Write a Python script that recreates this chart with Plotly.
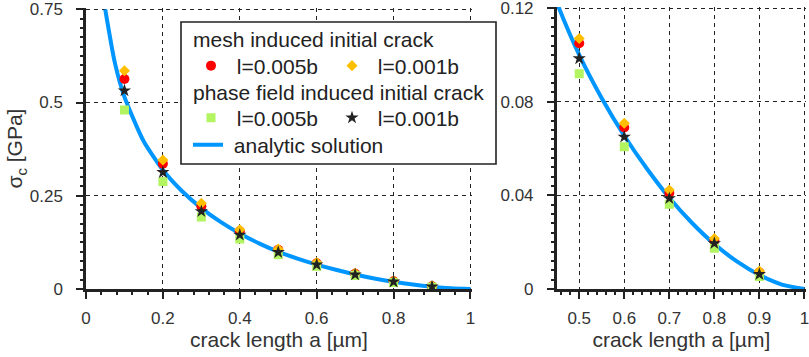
import plotly.graph_objects as go

# ---------------- data ----------------
a_curve = [0.05, 0.075, 0.1, 0.15, 0.2, 0.25, 0.3, 0.35, 0.4, 0.45, 0.5,
           0.55, 0.6, 0.65, 0.7, 0.75, 0.8, 0.85, 0.9, 0.95, 1.0]
sigma_curve = [0.75, 0.607, 0.515, 0.396, 0.319, 0.262, 0.217, 0.180, 0.149, 0.1225, 0.100,
               0.0815, 0.0655, 0.0515, 0.039, 0.0283, 0.0192, 0.0118, 0.006, 0.0019, 0.0]

a_pts = [0.1, 0.2, 0.3, 0.4, 0.5, 0.6, 0.7, 0.8, 0.9]
mesh_l005 = [0.563, 0.336, 0.222, 0.155, 0.105, 0.069, 0.041, 0.0206, 0.0071]
mesh_l001 = [0.585, 0.346, 0.230, 0.159, 0.107, 0.0708, 0.0423, 0.0216, 0.0077]
pf_l005 = [0.480, 0.288, 0.193, 0.134, 0.092, 0.0608, 0.0362, 0.0174, 0.0053]
pf_l001 = [0.532, 0.313, 0.208, 0.145, 0.0985, 0.065, 0.0387, 0.0195, 0.0063]

x_ticks_left = [0, 0.2, 0.4, 0.6, 0.8, 1.0]
x_ticktext_left = ["0", "0.2", "0.4", "0.6", "0.8", "1"]
y_ticks_left = [0, 0.25, 0.5, 0.75]
y_ticktext_left = ["0", "0.25", "0.5", "0.75"]
x_ticks_right = [0.5, 0.6, 0.7, 0.8, 0.9, 1.0]
x_ticktext_right = ["0.5", "0.6", "0.7", "0.8", "0.9", "1"]
y_ticks_right = [0, 0.04, 0.08, 0.12]
y_ticktext_right = ["0", "0.04", "0.08", "0.12"]

label_mesh = "mesh induced initial crack"
label_pf = "phase field induced initial crack"
label_l005 = "l=0.005b"
label_l001 = "l=0.001b"
label_analytic = "analytic solution"
x_title = "crack length a [µm]"
y_title = "σ<sub>c</sub> [GPa]"

# ---------------- style ----------------
W, H = 809, 357
FONT = "Liberation Sans, Arial, sans-serif"
INK = "#222222"
TXT = "#333333"
BLUE = "#0096FF"
RED = "#FF0000"
YEL = "#FFBF00"
GRN = "#B2F561"


def px_x(p):
    return p / W


def px_y(p):
    return 1 - p / H


fig = go.Figure()

series = [
    (mesh_l005, RED, "circle", 10, label_l005, "legend"),
    (mesh_l001, YEL, "diamond", 8.5, label_l001, "legend"),
    (pf_l005, GRN, "square", 9, label_l005, "legend2"),
    (pf_l001, INK, "star", 10, label_l001, "legend2"),
]

# analytic curve
for xa, ya, show in (("x", "y", True), ("x2", "y2", False)):
    fig.add_trace(go.Scatter(x=a_curve, y=sigma_curve, mode="lines", xaxis=xa, yaxis=ya,
                             line=dict(color=BLUE, width=4, shape="spline", smoothing=0.6),
                             name=" " + label_analytic, showlegend=show, legend="legend3"))

for vals, col, sym, size, name, lg in series:
    for xa, ya, show in (("x", "y", True), ("x2", "y2", False)):
        fig.add_trace(go.Scatter(x=a_pts, y=vals, mode="markers", xaxis=xa, yaxis=ya,
                                 marker=dict(color=col, symbol=sym, size=size, line=dict(width=0)),
                                 name=" " + name, showlegend=show, legend=lg))

common_axis = dict(
    automargin=False,
    showgrid=True, gridcolor=INK, gridwidth=1.3, griddash="4px,4px",
    showline=True, linecolor=INK, linewidth=2.5,
    ticks="outside", ticklen=7, tickwidth=2, tickcolor=INK,
    zeroline=False, tickfont=dict(size=17, color=TXT, family=FONT),
    ticklabeloverflow="allow",
)

fig.update_layout(
    template="none",
    width=W, height=H,
    margin=dict(l=0, r=0, t=0, b=0, autoexpand=False),
    paper_bgcolor="white", plot_bgcolor="white",
    font=dict(family=FONT, color=INK),
    xaxis=dict(common_axis, domain=[px_x(86), px_x(472)], range=[0, 1.004], anchor="y",
               tickmode="array", tickvals=x_ticks_left, ticktext=x_ticktext_left,
               minor=dict(dtick=0.04, tick0=0, ticks="outside", ticklen=3, tickwidth=1.5,
                          tickcolor=INK, showgrid=False),
               ticklabelstandoff=5,
               title=dict(text=x_title, font=dict(size=21, color=TXT), standoff=4)),
    yaxis=dict(common_axis, domain=[px_y(289), px_y(8)], range=[0, 0.7535], anchor="x",
               tickmode="array", tickvals=y_ticks_left, ticktext=y_ticktext_left,
               minor=dict(dtick=0.025, tick0=0, ticks="outside", ticklen=3, tickwidth=1.5,
                          tickcolor=INK, showgrid=False),
               ticklabelstandoff=10,
               title=dict(text=y_title, font=dict(size=21, color=TXT), standoff=0)),
    xaxis2=dict(common_axis, domain=[px_x(556.7), px_x(806)], range=[0.45, 1.0035], anchor="y2",
                tickmode="array", tickvals=x_ticks_right, ticktext=x_ticktext_right,
                minor=dict(dtick=0.02, tick0=0, ticks="outside", ticklen=3, tickwidth=1.5,
                           tickcolor=INK, showgrid=False),
                ticklabelstandoff=5,
                title=dict(text=x_title, font=dict(size=21, color=TXT), standoff=4)),
    yaxis2=dict(common_axis, domain=[px_y(289), px_y(7)], range=[0, 0.1205], anchor="x2",
                tickmode="array", tickvals=y_ticks_right, ticktext=y_ticktext_right,
                minor=dict(dtick=0.004, tick0=0, ticks="outside", ticklen=3, tickwidth=1.5,
                           tickcolor=INK, showgrid=False),
                ticklabelstandoff=10),
    showlegend=True,
)

leg_common = dict(orientation="h", xref="paper", yref="paper", xanchor="left", yanchor="middle",
                  bgcolor="rgba(0,0,0,0)", borderwidth=0, font=dict(size=21, color=INK, family=FONT),
                  itemsizing="trace", tracegroupgap=0)
fig.update_layout(
    legend=dict(leg_common, x=px_x(191), y=px_y(66), entrywidth=96, entrywidthmode="pixels"),
    legend2=dict(leg_common, x=px_x(191), y=px_y(118), entrywidth=96, entrywidthmode="pixels"),
    legend3=dict(leg_common, x=px_x(188), y=px_y(145)),
)

# legend frame
fig.add_shape(type="rect", xref="paper", yref="paper",
              x0=px_x(181), x1=px_x(496), y0=px_y(164), y1=px_y(22),
              line=dict(color=INK, width=1.6), fillcolor="white", layer="above")

for txt, yy in ((label_mesh, 39), (label_pf, 93)):
    fig.add_annotation(text=txt, xref="paper", yref="paper", x=px_x(191), y=px_y(yy),
                       xanchor="left", yanchor="middle", showarrow=False,
                       font=dict(size=21, color=INK, family=FONT))

fig.write_html("out.html", config={"displayModeBar": False},
               post_script="document.body.style.margin='0';document.body.style.overflow='hidden';")
